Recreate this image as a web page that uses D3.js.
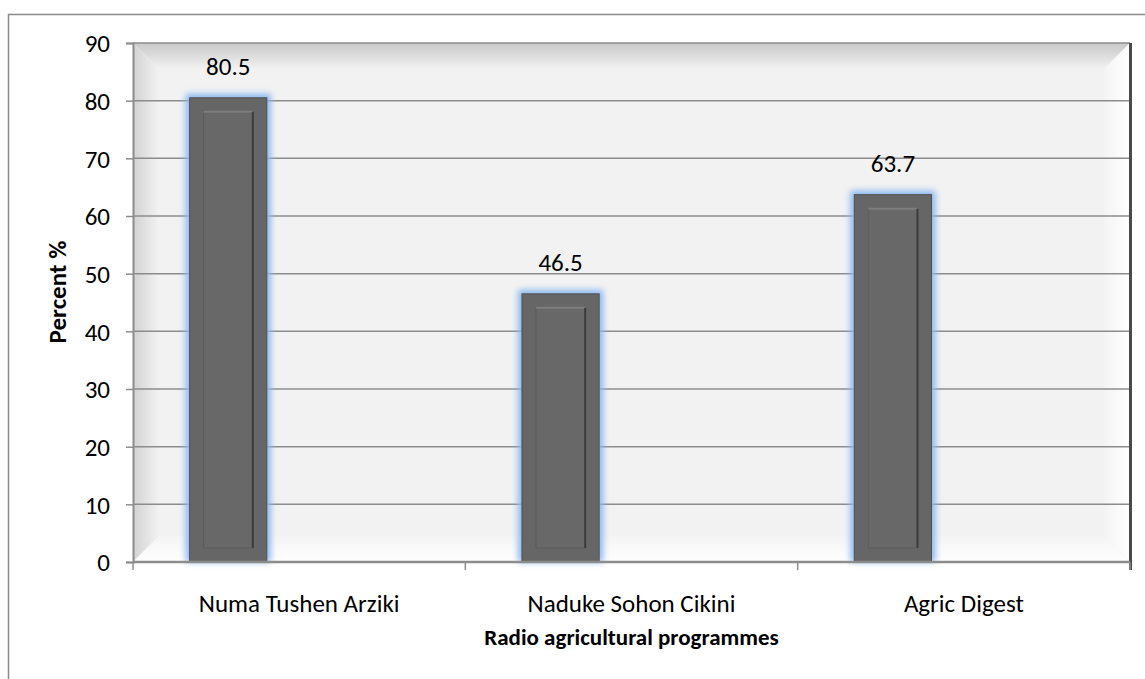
<!DOCTYPE html>
<html>
<head>
<meta charset="utf-8">
<script src="https://cdn.jsdelivr.net/npm/d3@7"></script>
<style>
  body { margin: 0; background: #fff; }
  svg text { font-family: Carlito, Calibri, Lato, sans-serif; fill: #000; }
</style>
</head>
<body>
<svg id="chart" width="1145" height="679"></svg>
<script>
// chart data
var categories = ['Numa Tushen Arziki', 'Naduke Sohon Cikini', 'Agric Digest']
var values = [80.5, 46.5, 63.7]
var yTicks = [0, 10, 20, 30, 40, 50, 60, 70, 80, 90]
// excel-style clustered slots, only the first one has data
var slots = ['Percent', 'slot2', 'slot3']

var svg = d3.select('#chart')
var plotLeft = 133
var plotRight = 1130
var plotTop = 43
var plotBottom = 562

var x = d3.scaleBand().domain(categories).range([plotLeft, plotRight]).padding(0)
var xSub = d3.scaleBand().domain(slots).range([0, x.bandwidth()])
  .paddingInner(0.02).paddingOuter(0.62).align(0.58)
var y = d3.scaleLinear().domain([0, 90]).range([plotBottom, plotTop])

var defs = svg.append('defs')
function grad (id, x2, y2, c1, c2) {
  var g = defs.append('linearGradient').attr('id', id)
    .attr('x1', 0).attr('y1', 0).attr('x2', x2).attr('y2', y2)
  g.append('stop').attr('offset', '0%').attr('stop-color', c1)
  g.append('stop').attr('offset', '100%').attr('stop-color', c2)
}
grad('gTop', 0, 1, '#c8c8c8', '#f2f2f2')
grad('gLeft', 1, 0, '#d2d2d2', '#f2f2f2')
grad('gRight', 1, 0, '#f4f4f4', '#ffffff')
grad('gBottom', 0, 1, '#f4f4f4', '#ffffff')
defs.append('filter').attr('id', 'glow').attr('x', '-30%').attr('y', '-30%')
  .attr('width', '160%').attr('height', '160%')
  .append('feGaussianBlur').attr('stdDeviation', 3)

// outer chart border
svg.append('rect').attr('x', 8.5).attr('y', 14.5).attr('width', 1200).attr('height', 700)
  .attr('fill', 'none').attr('stroke', '#8a8a8a').attr('stroke-width', 1.5)

// plot area with bevel
var bev = 26
var pa = svg.append('g')
pa.append('rect').attr('x', plotLeft).attr('y', plotTop)
  .attr('width', plotRight - plotLeft).attr('height', plotBottom - plotTop)
  .attr('fill', '#f2f2f2')
pa.append('polygon').attr('fill', 'url(#gTop)')
  .attr('points', [[plotLeft, plotTop], [plotRight, plotTop], [plotRight - bev, plotTop + bev], [plotLeft + bev, plotTop + bev]].join(' '))
pa.append('polygon').attr('fill', 'url(#gLeft)')
  .attr('points', [[plotLeft, plotTop], [plotLeft + bev, plotTop + bev], [plotLeft + bev, plotBottom - bev], [plotLeft, plotBottom]].join(' '))
pa.append('polygon').attr('fill', 'url(#gRight)')
  .attr('points', [[plotRight, plotTop], [plotRight, plotBottom], [plotRight - bev, plotBottom - bev], [plotRight - bev, plotTop + bev]].join(' '))
pa.append('polygon').attr('fill', 'url(#gBottom)')
  .attr('points', [[plotLeft, plotBottom], [plotLeft + bev, plotBottom - bev], [plotRight - bev, plotBottom - bev], [plotRight, plotBottom]].join(' '))

// gridlines
svg.append('g').selectAll('line').data(yTicks.slice(1)).enter().append('line')
  .attr('x1', plotLeft).attr('x2', plotRight)
  .attr('y1', function (d) { return y(d) }).attr('y2', function (d) { return y(d) })
  .attr('stroke', '#8c8c8c').attr('stroke-width', 1.5)

// dark right edge of plot area
svg.append('line').attr('x1', plotRight + 0.5).attr('x2', plotRight + 0.5)
  .attr('y1', plotTop).attr('y2', plotBottom + 8)
  .attr('stroke', '#4a4a4a').attr('stroke-width', 3)

// bars
var bars = svg.append('g').selectAll('g').data(values).enter().append('g')
  .attr('transform', function (d, i) { return 'translate(' + (x(categories[i]) + xSub('Percent')) + ',0)' })
var bw = xSub.bandwidth()
bars.append('rect').attr('x', -4).attr('width', bw + 8)
  .attr('y', function (d) { return y(d) - 4 }).attr('height', function (d) { return plotBottom - y(d) + 4 })
  .attr('fill', '#8ab8f0').attr('filter', 'url(#glow)')
bars.append('rect').attr('x', 0).attr('width', bw)
  .attr('y', function (d) { return y(d) }).attr('height', function (d) { return plotBottom - y(d) })
  .attr('fill', '#666').attr('stroke', '#505050').attr('stroke-width', 1)
var ins = 14
bars.append('rect').attr('x', ins).attr('width', bw - 2 * ins)
  .attr('y', function (d) { return y(d) + ins }).attr('height', function (d) { return plotBottom - y(d) - 2 * ins })
  .attr('fill', '#686868').attr('stroke', '#5c5c5c').attr('stroke-width', 1)
bars.append('line').attr('x1', ins).attr('x2', bw - ins)
  .attr('y1', function (d) { return y(d) + ins }).attr('y2', function (d) { return y(d) + ins })
  .attr('stroke', '#7e7e7e').attr('stroke-width', 2)
bars.append('line').attr('x1', bw - ins).attr('x2', bw - ins)
  .attr('y1', function (d) { return y(d) + ins }).attr('y2', plotBottom - ins)
  .attr('stroke', '#3c3c3c').attr('stroke-width', 2)

// data labels
bars.append('text').attr('x', bw / 2).attr('y', function (d) { return y(d) - 23 })
  .attr('text-anchor', 'middle').style('font-size', '25px')
  .text(function (d) { return d.toFixed(1) })

// axes
var yAxis = svg.append('g').attr('transform', 'translate(' + plotLeft + ',0)')
  .call(d3.axisLeft(y).tickValues(yTicks).tickSize(7).tickPadding(16))
yAxis.select('.domain').attr('stroke', '#8c8c8c').attr('stroke-width', 2)
yAxis.selectAll('.tick line').attr('stroke', '#8c8c8c').attr('stroke-width', 1.5)
yAxis.selectAll('.tick text').style('font-size', '25px').attr('dy', '0.35em')

var xAxis = svg.append('g').attr('transform', 'translate(0,' + plotBottom + ')')
xAxis.append('line').attr('x1', plotLeft).attr('x2', plotRight).attr('stroke', '#8c8c8c').attr('stroke-width', 2.5)
var xTicks = categories.map(function (c) { return x(c) }).concat([plotRight])
xAxis.selectAll('.xt').data(xTicks).enter().append('line')
  .attr('x1', function (d) { return d }).attr('x2', function (d) { return d })
  .attr('y1', 0).attr('y2', 8).attr('stroke', '#8c8c8c').attr('stroke-width', 1.5)
xAxis.selectAll('.xl').data(categories).enter().append('text')
  .attr('x', function (d) { return x(d) + x.bandwidth() / 2 }).attr('y', 50)
  .attr('text-anchor', 'middle').style('font-size', '25px')
  .text(function (d) { return d })

// axis titles
svg.append('text').attr('x', (plotLeft + plotRight) / 2).attr('y', 645)
  .attr('text-anchor', 'middle').style('font-size', '23px').style('font-weight', 'bold')
  .text('Radio agricultural programmes')
svg.append('text').attr('transform', 'translate(66,' + 292 + ') rotate(-90)')
  .attr('text-anchor', 'middle').style('font-size', '25px').style('font-weight', 'bold')
  .text('Percent %')
</script>
</body>
</html>
